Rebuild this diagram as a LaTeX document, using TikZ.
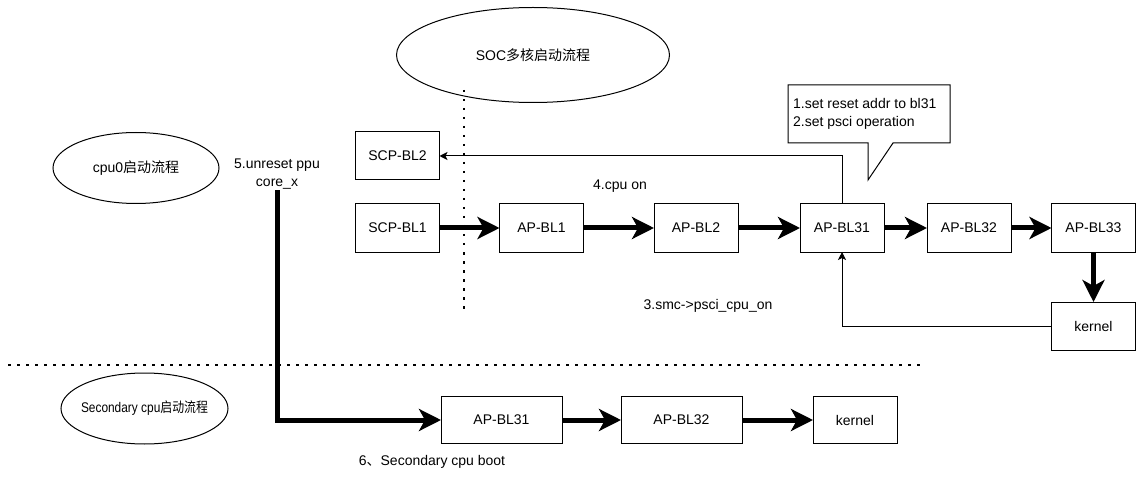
\documentclass[tikz,border=0pt]{standalone}
\usepackage{fontspec}
\setmainfont{Liberation Sans}
\newfontfamily\cjk{Noto Sans CJK SC}
\usepackage{tikz}
\usetikzlibrary{arrows.meta,positioning,shapes.geometric}

\tikzset{
  stage/.style={draw,line width=1pt,minimum width=84pt,minimum height=48pt,inner sep=1pt,outer sep=0pt,
    font=\fontsize{14}{18}\selectfont},
  wide/.style={stage,minimum width=121pt,minimum height=47pt},
  bubble/.style={draw,ellipse,line width=1pt,inner sep=0pt,font=\fontsize{14}{18}\selectfont},
  txt/.style={inner sep=1pt,font=\fontsize{14}{18}\selectfont},
  flow/.style={line width=5pt,-{Stealth[length=22pt,width=22pt,inset=6pt]}},
  back/.style={line width=1pt,-{Stealth[length=8pt,width=8pt,inset=2pt]}},
  sep/.style={line width=2.5pt,dash pattern=on 2.5pt off 6.5pt}
}

\begin{document}
\begin{tikzpicture}[x=1pt,y=1pt]
    \useasboundingbox (0,0) rectangle (1143,488);
    \node[bubble,minimum width=273pt,minimum height=95pt] (soc) at (533,433) {\makebox[0pt]{SOC{\cjk 多核启动流程}}};
    \node[bubble,minimum width=166pt,minimum height=71pt] (cpu0) at (136,320) {\makebox[0pt]{cpu0{\cjk 启动流程}}};
    \node[bubble,minimum width=167pt,minimum height=71pt] (sec) at (144.5,79.5) {\makebox[0pt]{\scalebox{0.85}[1]{Secondary cpu{\cjk 启动流程}}}};

    \node[stage] (scp1) at (397.5,260) {SCP-BL1};
    \node[stage,above=24pt of scp1] (scp2) {SCP-BL2};
    \node[stage,right=60pt of scp1] (ap1) {AP-BL1};
    \node[stage,right=70.5pt of ap1] (ap2) {AP-BL2};
    \node[stage,right=62pt of ap2] (ap31) {AP-BL31};
    \node[stage,right=43pt of ap31] (ap32) {AP-BL32};
    \node[stage,right=40.5pt of ap32] (ap33) {AP-BL33};
    \node[stage,below=50pt of ap33] (kern) {kernel};

    \node[wide] (sap31) at (501.5,68) {AP-BL31};
    \node[wide,right=59pt of sap31] (sap32) {AP-BL32};
    \node[stage,minimum height=47pt,right=71pt of sap32] (skern) {kernel};

    \node[txt,align=center] (unreset) at (277,314) {5.unreset ppu\\core\_x};
    \node[txt] (cpuon) at (620,302) {4.cpu on};
    \node[txt] (smc) at (708,182) {3.smc->psci\_cpu\_on};
    \node[txt] (boot) at (432,26) {6{\cjk 、}Secondary cpu boot};
    \node[txt,align=left,anchor=west] (note) at (792,374) {1.set reset addr to bl31\\2.set psci operation};

    \draw[line width=1pt,line join=miter] (788,403) -- (950,403) -- (950,345) -- (893,345)
        -- (868,308) -- (868,345) -- (788,345) -- cycle;

    \draw[sep] (464,398) -- (464,175);
    \draw[sep] (8,123) -- (925,123);

    \draw[flow] (scp1) -- (ap1);
    \draw[flow] (ap1) -- (ap2);
    \draw[flow] (ap2) -- (ap31);
    \draw[flow] (ap31) -- (ap32);
    \draw[flow] (ap32) -- (ap33);
    \draw[flow] (ap33) -- (kern);
    \draw[back] (ap31.north) |- (scp2.east);
    \draw[back] (kern.west) -| (ap31.south);

    \draw[flow] (unreset.south) |- (sap31.west);
    \draw[flow] (sap31) -- (sap32);
    \draw[flow] (sap32) -- (skern);
\end{tikzpicture}
\end{document}
